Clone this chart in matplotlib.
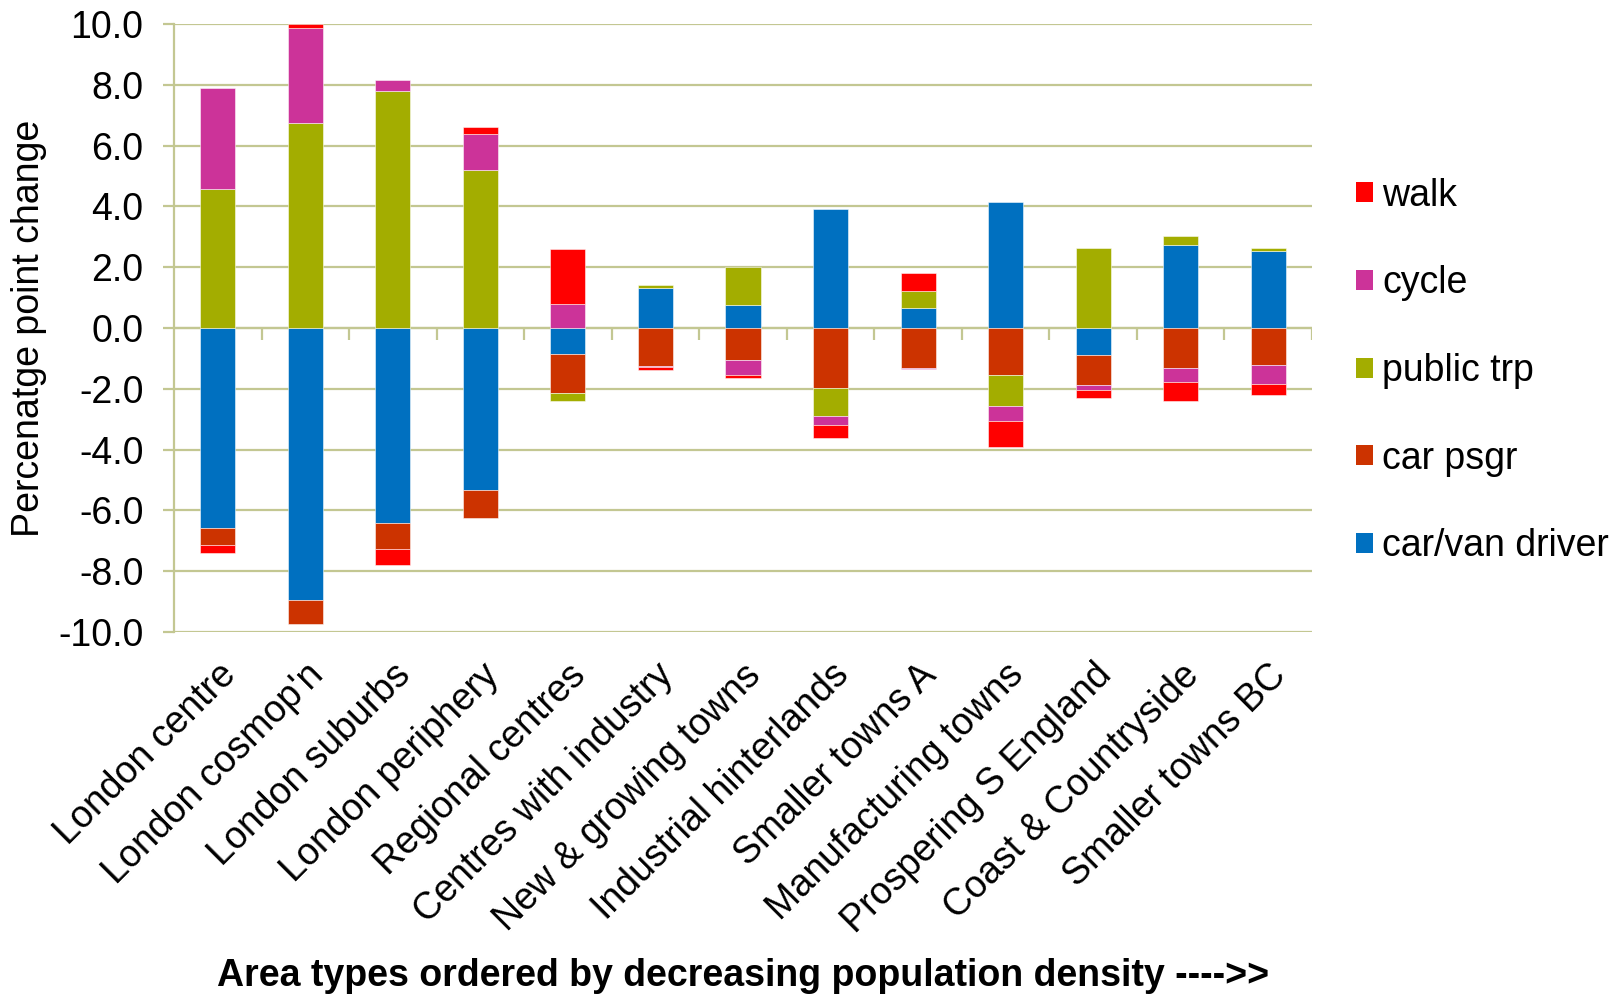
import numpy as np
import matplotlib
matplotlib.use("Agg")
import matplotlib.pyplot as plt
from matplotlib.patches import Patch

plt.rcParams.update({
    "font.family": ["Liberation Sans", "DejaVu Sans"],
    "font.size": 27,
})

# area types, densest first
areas = ["London centre", "London cosmop'n", "London suburbs", "London periphery",
         "Regional centres", "Centres with industry", "New & growing towns",
         "Industrial hinterlands", "Smaller towns A", "Manufacturing towns",
         "Prospering S England", "Coast & Countryside", "Smaller towns BC"]

# percentage point change by mode (stacking order: driver first)
car_driver = [-6.58, -8.96, -6.40, -5.34, -0.84, 1.32, 0.76, 3.91, 0.65, 4.15, -0.88, 2.74, 2.52]
car_psgr   = [-0.56, -0.77, -0.87, -0.90, -1.30, -1.24, -1.04, -1.99, -1.30, -1.56, -1.00, -1.32, -1.22]
public_trp = [4.57, 6.74, 7.79, 5.19, -0.25, 0.10, 1.25, -0.92, 0.57, -0.99, 2.64, 0.28, 0.11]
cycle      = [3.31, 3.12, 0.38, 1.20, 0.78, -0.05, -0.49, -0.27, -0.05, -0.51, -0.16, -0.47, -0.62]
walk       = [-0.25, 0.14, -0.53, 0.23, 1.83, -0.10, -0.13, -0.44, 0.58, -0.87, -0.27, -0.60, -0.37]

series = [
    ("car/van driver", car_driver, "#0070C0"),
    ("car psgr",       car_psgr,   "#CC3300"),
    ("public trp",     public_trp, "#A3AD00"),
    ("cycle",          cycle,      "#CC3399"),
    ("walk",           walk,       "#FF0000"),
]

GRID = "#C3C792"

fig = plt.figure(figsize=(16.24, 9.97), dpi=100)
ax = fig.add_axes([174 / 1624, 1 - 632 / 997, (1312 - 174) / 1624, (632 - 24) / 997])

x = np.arange(len(areas))
pos_base = np.zeros(len(areas))
neg_base = np.zeros(len(areas))
handles = []
for name, vals, col in series:
    v = np.array(vals)
    base = np.where(v >= 0, pos_base, neg_base)
    ax.bar(x, v, 0.4, bottom=base, color=col, edgecolor="#FFFFFF99",
           linewidth=0.6, zorder=3)
    pos_base += np.where(v >= 0, v, 0)
    neg_base += np.where(v < 0, v, 0)
    handles.append(Patch(facecolor=col, label=name))

ax.set_xlim(-0.5, len(areas) - 0.5)
ax.set_ylim(-10, 10)
ax.set_yticks(np.arange(-10, 10.1, 2))
ax.yaxis.set_major_formatter(matplotlib.ticker.FormatStrFormatter("%.1f"))
ax.grid(axis="y", color=GRID, linewidth=1.6, zorder=0)
for s in ["top", "right", "bottom"]:
    ax.spines[s].set_visible(False)
ax.spines["left"].set_color(GRID)
ax.spines["left"].set_linewidth(1.6)
ax.tick_params(axis="y", colors=GRID, labelcolor="black", length=8, width=1.6, pad=14)

# category axis crossing at zero, with tick marks between categories
ax.axhline(0, color=GRID, linewidth=1.6, zorder=2)
ax.vlines(np.arange(0.5, len(areas), 1), -0.4, 0, color=GRID, linewidth=1.6, zorder=2)

ax.set_xticks(x)
ax.set_xticklabels(areas, rotation=45, ha="right", rotation_mode="anchor")
ax.tick_params(axis="x", length=0, pad=18)

ax.set_ylabel("Percenatge point change", labelpad=8)
fig.text(743 / 1624, 1 - 976 / 997,
         "Area types ordered by decreasing population density ---->>",
         fontweight="bold", ha="center", va="center")

ax.legend(handles[::-1], [h.get_label() for h in handles[::-1]],
          loc="center left", bbox_to_anchor=(1341 / 1624, 1 - 371 / 997),
          bbox_transform=fig.transFigure, frameon=False,
          handlelength=0.45, handleheight=0.45, handletextpad=0.25,
          labelspacing=1.38, borderaxespad=0)

fig.savefig("out.png", dpi=100, facecolor="white")
